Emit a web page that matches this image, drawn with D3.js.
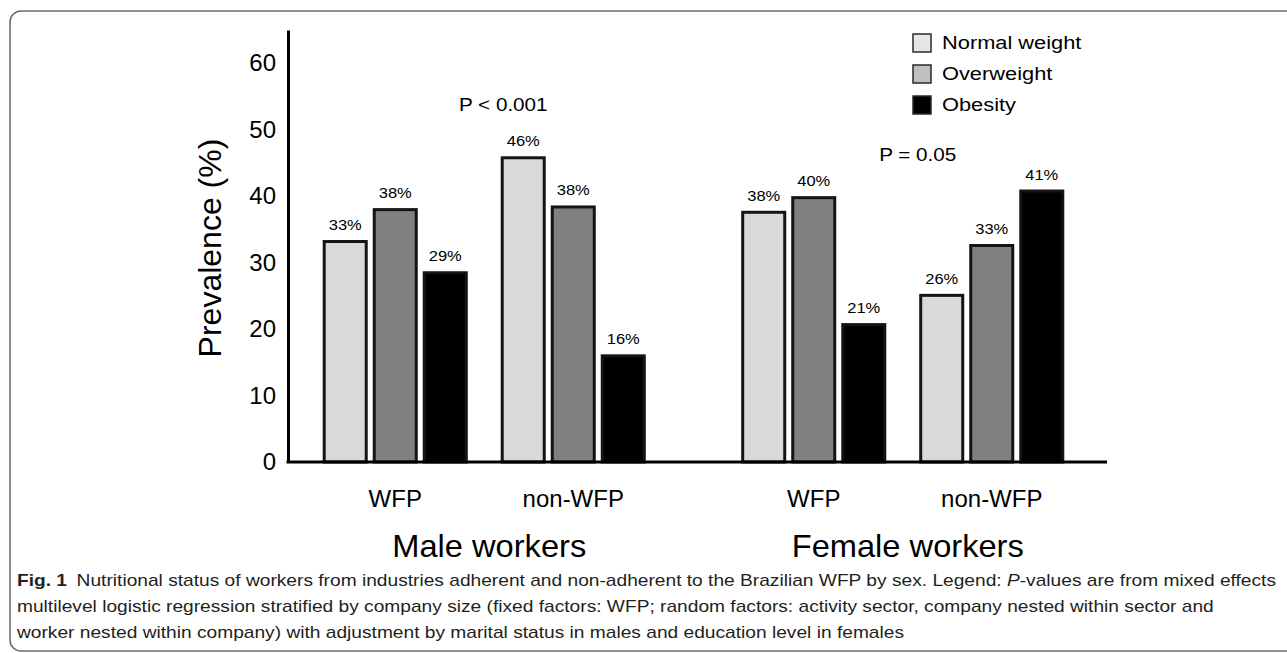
<!DOCTYPE html>
<html>
<head>
<meta charset="utf-8">
<script src="https://cdn.jsdelivr.net/npm/d3@7"></script>
<style>
  body { margin: 0; background: #fff; }
  svg { display: block; }
  text { font-family: "Liberation Sans", Arial, sans-serif; fill: #000; }
</style>
</head>
<body>
<script>
// data
const sexes = ['Male workers', 'Female workers'];
const programs = ['WFP', 'non-WFP'];
const categories = ['Normal weight', 'Overweight', 'Obesity'];
const maleWFP = [33.4, 38.2, 28.7];
const maleNonWFP = [46.0, 38.6, 16.2];
const femaleWFP = [37.8, 40.0, 20.9];
const femaleNonWFP = [25.3, 32.8, 41.0];
const maleWFPLabels = ['33%', '38%', '29%'];
const maleNonWFPLabels = ['46%', '38%', '16%'];
const femaleWFPLabels = ['38%', '40%', '21%'];
const femaleNonWFPLabels = ['26%', '33%', '41%'];
const pValues = ['P < 0.001', 'P = 0.05'];
const yTicks = [0, 10, 20, 30, 40, 50, 60];

const barColors = ['#d9d9d9', '#808080', '#000000'];
const legendColors = ['#e6e6e6', '#bfbfbf', '#000000'];

const groups = [
  {sex: sexes[0], prog: programs[0], vals: maleWFP, labs: maleWFPLabels},
  {sex: sexes[0], prog: programs[1], vals: maleNonWFP, labs: maleNonWFPLabels},
  {sex: sexes[1], prog: programs[0], vals: femaleWFP, labs: femaleWFPLabels},
  {sex: sexes[1], prog: programs[1], vals: femaleNonWFP, labs: femaleNonWFPLabels}
];

const W = 1287, H = 653;
const svg = d3.select('body').append('svg').attr('width', W).attr('height', H);

// frame
svg.append('rect').attr('x', 10).attr('y', 11).attr('width', W + 20).attr('height', 640)
  .attr('rx', 11).attr('fill', 'none').attr('stroke', '#6a6a6a').attr('stroke-width', 1.5);

const plotL = 288, plotR = 1107;
const y = d3.scaleLinear().domain([0, 65]).range([462, 30]);
const xSex = d3.scaleBand().domain(sexes).range([275, 1112]).padding(0);
const xProg = d3.scaleBand().domain(programs).range([0, xSex.bandwidth()])
  .paddingInner(0.185).paddingOuter(0.268);
const xCat = d3.scaleBand().domain(categories).range([0, xProg.bandwidth()]).paddingInner(0.1);

function stext(g, x, yy, str, size, sx, anchor){
  return g.append('text')
    .attr('transform', `translate(${x},${yy}) scale(${sx},1)`)
    .attr('font-size', size)
    .attr('text-anchor', anchor || 'middle')
    .text(str);
}

// y axis
const yAxis = svg.append('g').attr('transform', `translate(${plotL},0)`)
  .call(d3.axisLeft(y).tickValues(yTicks).tickSize(0).tickPadding(12));
yAxis.select('.domain').attr('stroke', '#000').attr('stroke-width', 3);
yAxis.selectAll('text').attr('font-size', 24).attr('font-family', '"Liberation Sans", Arial, sans-serif');

svg.append('text')
  .attr('transform', `translate(221,${(y(0) + y(65)) / 2 + 2}) rotate(-90)`)
  .attr('text-anchor', 'middle').attr('font-size', 32)
  .text('Prevalence (%)');

// bars
const bars = svg.append('g');
groups.forEach(gr => {
  const gx = xSex(gr.sex) + xProg(gr.prog);
  const g = bars.append('g').attr('transform', `translate(${gx},0)`);
  g.selectAll('rect').data(gr.vals).join('rect')
    .attr('x', (d, i) => xCat(categories[i]) + 1.5)
    .attr('y', d => y(d) + 1.5)
    .attr('width', xCat.bandwidth() - 3)
    .attr('height', d => y(0) - y(d) - 1.5)
    .attr('fill', (d, i) => barColors[i])
    .attr('stroke', '#141414').attr('stroke-width', 3);
  gr.vals.forEach((v, i) => {
    stext(g, xCat(categories[i]) + xCat.bandwidth() / 2, y(v) - 10, gr.labs[i], 15, 1.1);
  });
  stext(svg, gx + xProg.bandwidth() / 2, 507, gr.prog, 24, 1);
});

// x axis line
svg.append('line').attr('x1', plotL - 1.5).attr('x2', plotR).attr('y1', y(0)).attr('y2', y(0))
  .attr('stroke', '#000').attr('stroke-width', 3);

// sex labels
sexes.forEach(s => {
  stext(svg, xSex(s) + xSex.bandwidth() / 2 + 5, 557, s, 32, 1.02);
});

// p-values
stext(svg, xSex(sexes[0]) + xSex.bandwidth() / 2 + 19, 111, pValues[0], 18, 1.15);
stext(svg, xSex(sexes[1]) + xSex.bandwidth() / 2 + 15, 161, pValues[1], 18, 1.15);

// legend
const leg = svg.append('g').attr('transform', 'translate(913,0)');
categories.forEach((c, i) => {
  const cy = 42 + i * 31;
  leg.append('rect').attr('x', 0).attr('y', cy - 8).attr('width', 18).attr('height', 18)
    .attr('fill', legendColors[i]).attr('stroke', '#2a2a2a').attr('stroke-width', 1.5);
  stext(leg, 29, cy + 6.5, c, 18.5, 1.18, 'start');
});

// caption
const cap = svg.append('g').attr('fill', '#231f20');
const capFont = '"Liberation Sans Narrow", "Noto Sans", sans-serif';
const l1 = cap.append('text').attr('x', 17).attr('y', 586).attr('font-size', 17)
  .attr('font-family', capFont).style('fill', '#231f20');
l1.append('tspan').attr('font-weight', 'bold').text('Fig. 1');
l1.append('tspan').text('\u2002Nutritional status of workers from industries adherent and non-adherent to the Brazilian WFP by sex. Legend: ');
l1.append('tspan').attr('font-style', 'italic').text('P');
l1.append('tspan').text('-values are from mixed effects');
const l2 = cap.append('text').attr('x', 17).attr('y', 612).attr('font-size', 17)
  .attr('font-family', capFont).style('fill', '#231f20')
  .text('multilevel logistic regression stratified by company size (fixed factors: WFP; random factors: activity sector, company nested within sector and');
const l3 = cap.append('text').attr('x', 17).attr('y', 638).attr('font-size', 17)
  .attr('font-family', capFont).style('fill', '#231f20')
  .text('worker nested within company) with adjustment by marital status in males and education level in females');
const ratio = 1259 / l1.node().getComputedTextLength();
[l1, l2, l3].forEach(t => {
  const w = t.node().getComputedTextLength();
  t.attr('textLength', w * ratio).attr('lengthAdjust', 'spacingAndGlyphs');
});
</script>
</body>
</html>
